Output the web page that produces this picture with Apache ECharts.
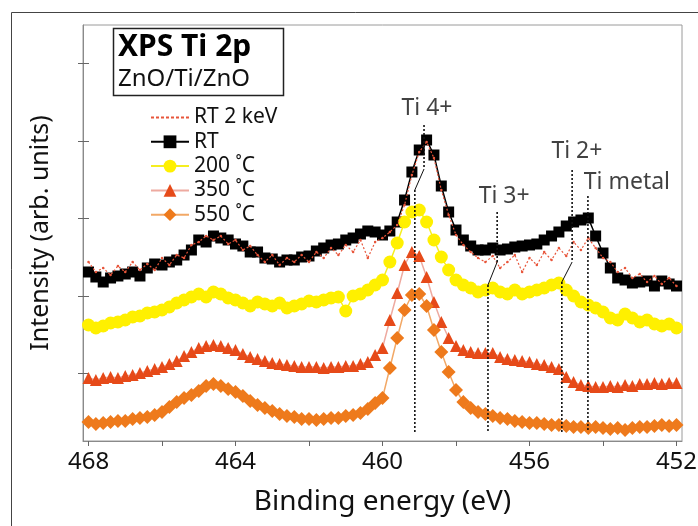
<!DOCTYPE html>
<html><head><meta charset="utf-8">
<script src="https://cdn.jsdelivr.net/npm/echarts@6/dist/echarts.min.js"></script>
<style>html,body{margin:0;padding:0;background:#fff}#c{width:698px;height:526px}</style>
</head><body><div id="c"></div>
<script>
// Binding energy grid (eV)
const energy = [468,467.8,467.6,467.4,467.2,467,466.8,466.6,466.4,466.2,466,465.8,465.6,465.4,465.2,465,464.8,464.6,464.4,464.2,464,463.8,463.6,463.4,463.2,463,462.8,462.6,462.4,462.2,462,461.8,461.6,461.4,461.2,461,460.8,460.6,460.4,460.2,460,459.8,459.6,459.4,459.2,459,458.8,458.6,458.4,458.2,458,457.8,457.6,457.4,457.2,457,456.8,456.6,456.4,456.2,456,455.8,455.6,455.4,455.2,455,454.8,454.6,454.4,454.2,454,453.8,453.6,453.4,453.2,453,452.8,452.6,452.4,452.2,452];
// Intensities (arb. units, offset-stacked as in the figure)
const rt2keV = [179,169,173,166,175,169,179,171,177,171,183,176,186,183,196,199,205,201,205,197,201,191,195,186,179,186,176,183,179,186,179,189,183,193,186,196,189,201,183,199,203,209,216,236,266,289,299,283,251,226,206,196,189,183,179,185,173,179,186,169,183,176,189,181,193,185,199,191,203,193,183,179,169,173,163,167,159,165,157,163,155];
const rt = [169,164,159,163,165,167,169,165,173,177,176,179,181,186,191,201,199,205,203,201,197,195,189,189,183,182,179,181,181,184,185,190,193,196,197,201,203,207,210,209,206,210,219,241,269,291,301,286,255,229,211,201,195,191,191,193,191,192,194,195,196,197,201,205,209,215,219,221,223,205,188,173,163,161,158,159,160,155,160,157,155];
const t200 = [116,113,115,118,119,121,124,125,128,129,131,134,138,141,144,147,144,149,147,143,141,138,135,139,137,135,138,133,135,137,140,139,141,143,144,130,145,147,151,156,161,179,198,219,229,231,219,201,184,171,161,156,153,149,151,153,149,147,151,147,149,151,153,156,158,151,145,139,136,133,129,123,121,127,123,119,121,117,115,117,113];
const t350 = [63,61,63,64,63,65,66,68,70,72,74,77,80,85,89,93,95,96,95,93,91,87,84,82,80,78,77,76,75,74,74,74,73,74,74,75,75,77,79,86,93,121,148,176,189,185,164,139,119,103,95,91,89,88,88,88,84,82,81,80,79,77,76,74,72,64,59,56,55,54,54,55,54,56,55,57,57,58,57,58,58];
const t550 = [19,17,18,19,20,20,22,23,24,26,29,34,39,43,46,50,55,57,55,52,49,45,40,36,33,30,27,25,24,22,22,21,22,23,23,25,26,28,32,38,43,73,103,131,146,147,135,111,89,69,51,39,33,29,27,25,23,22,20,19,18,18,17,16,16,15,14,14,13,14,13,12,13,11,13,14,14,15,16,15,16];

const seriesNames = ['RT 2 keV','RT','200 ˚C','350 ˚C','550 ˚C'];
const xTickValues = [468,466,464,462,460,458,456,454,452];
const xLabelValues = [468,464,460,456,452];
const yTickValues = [68,145,223,300,378];

// Peak annotations
const peakLabels = [[458.79,333,'Ti 4+'],[456.69,245,'Ti 3+'],[454.71,290,'Ti 2+'],[453.35,259,'Ti metal']];
const dropUpper = [[[458.87,316],[458.87,272]],[[456.88,229],[456.88,179]],[[454.84,271],[454.84,179]],[[454.41,245],[454.41,9]]];
const dropSlant = [[[458.87,272],[459.12,251]],[[456.88,179],[457.13,156]],[[454.84,179],[455.12,159]]];
const dropLower = [[[459.12,251],[459.12,9]],[[457.13,156],[457.13,9]],[[455.12,159],[455.12,9]]];

const FONT = 'Noto Sans';
const C = {rt2:'#e8553a', rt:'#000000', t200:'#fff000', t350:'#e64a19', t550:'#ee7a1c'};
const pairs = arr => energy.map((e,i)=>[e, arr[i]]);
const seg = (pts, solid) => ({type:'line', data:pts, symbol:'none', silent:true, z:6, animation:false,
  lineStyle:{color:'#111', width: solid?1:1.6, type: solid?'solid':[2,2]}});

const chart = echarts.init(document.getElementById('c'));
chart.setOption({
  animation:false,
  backgroundColor:'#fff',
  textStyle:{fontFamily:FONT},
  grid:{left:83, right:16, top:25, bottom:85, show:true, borderColor:'#9a9a9a', borderWidth:1,
    containLabel:false, outerBoundsMode:'none'},
  xAxis:{type:'value', inverse:true, min:451.85, max:468.15,
    name:'Binding energy (eV)', nameLocation:'middle', nameGap:47,
    nameTextStyle:{fontSize:28, color:'#111', fontFamily:FONT},
    axisLine:{lineStyle:{color:'#8a8a8a'}},
    axisTick:{show:true, customValues:xTickValues, length:5, lineStyle:{color:'#666'}},
    axisLabel:{customValues:xLabelValues, fontSize:24, color:'#111', margin:9, fontFamily:FONT},
    splitLine:{show:false}},
  yAxis:[{type:'value', min:0, max:416,
    name:'Intensity (arb. units)', nameLocation:'middle', nameGap:30,
    nameTextStyle:{fontSize:25, color:'#111', fontFamily:FONT},
    axisLine:{show:true, lineStyle:{color:'#8a8a8a'}},
    axisTick:{show:true, customValues:yTickValues, length:5, lineStyle:{color:'#666'}},
    axisLabel:{show:false}, splitLine:{show:false}},
    {type:'value', min:0, max:416, position:'left',
    axisLine:{show:false},
    axisTick:{show:true, inside:true, customValues:yTickValues, length:6, lineStyle:{color:'#666'}},
    axisLabel:{show:false}, splitLine:{show:false}}],
  legend:{data:[
      {name:'RT 2 keV', icon:'path://M0,0h3v2h-3zM5,0h3v2h-3zM10,0h3v2h-3zM15,0h3v2h-3zM20,0h3v2h-3zM25,0h3v2h-3zM30,0h3v2h-3zM35,0h3v2h-3z'},
      'RT','200 ˚C','350 ˚C','550 ˚C'],
    orient:'vertical', left:150, top:107, padding:0, itemWidth:38, itemHeight:16, itemGap:3.3,
    symbolKeepAspect:true, selectedMode:false,
    textStyle:{fontSize:21, lineHeight:20, color:'#111', fontFamily:FONT}},
  graphic:[
    {type:'rect', silent:true, z:-10, shape:{x:11.5,y:12.5,width:700,height:530}, style:{fill:'none', stroke:'#444', lineWidth:1}},
    {type:'rect', silent:true, shape:{x:113.5,y:28.5,width:170,height:67}, style:{fill:'#fff', stroke:'#222', lineWidth:1.5}},
    {type:'text', silent:true, x:118, y:47, style:{text:'XPS Ti 2p', fontSize:30, fontWeight:'bold', fontFamily:FONT, fill:'#000', verticalAlign:'middle'}},
    {type:'text', silent:true, x:118, y:79, style:{text:'ZnO/Ti/ZnO', fontSize:24, fontFamily:FONT, fill:'#111', verticalAlign:'middle'}}
  ],
  series:[
    {name:'RT', type:'line', data:pairs(rt), symbol:'rect', symbolSize:11, z:2,
      itemStyle:{color:C.rt}, lineStyle:{color:'#000', width:1.5}},
    {name:'RT 2 keV', type:'line', data:pairs(rt2keV), symbol:'circle', symbolSize:2.5, z:3,
      itemStyle:{color:C.rt2}, lineStyle:{color:C.rt2, width:1.2, type:[2,2]}},
    {name:'200 ˚C', type:'line', data:pairs(t200), symbol:'circle', symbolSize:13, z:2,
      itemStyle:{color:C.t200}, lineStyle:{color:'#f5ee20', width:1.5}},
    {name:'350 ˚C', type:'line', data:pairs(t350), symbol:'triangle', symbolSize:12, z:2,
      itemStyle:{color:C.t350}, lineStyle:{color:'#eeaaa0', width:1.5}},
    {name:'550 ˚C', type:'line', data:pairs(t550), symbol:'diamond', symbolSize:14, z:2,
      itemStyle:{color:C.t550}, lineStyle:{color:'#f2a866', width:1.5}},
    ...dropUpper.map(p=>seg(p,false)),
    ...dropSlant.map(p=>seg(p,true)),
    ...dropLower.map(p=>seg(p,false)),
    {type:'scatter', data:peakLabels, symbolSize:0, silent:true, z:7,
      label:{show:true, position:'inside', formatter:p=>p.data[2], fontSize:23, color:'#111', fontFamily:FONT}}
  ]
});
</script></body></html>
